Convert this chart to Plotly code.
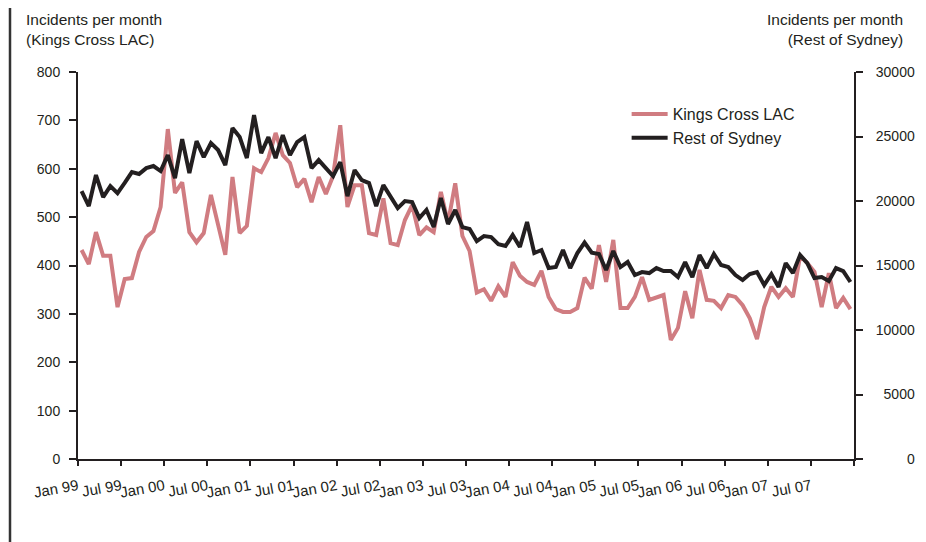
import plotly.graph_objects as go

# Monthly incidents, Jan 1999 - Dec 2007 (108 months)
kings_cross = [
    432, 403, 469, 420, 420, 314, 372, 374, 428, 459, 471, 521,
    682, 550, 572, 469, 448, 467, 546, 485, 422, 583, 467, 482,
    601, 593, 622, 674, 628, 612, 562, 579, 531, 583, 548, 585,
    690, 521, 566, 566, 467, 463, 539, 446, 442, 494, 525, 463,
    479, 469, 552, 488, 570, 461, 430, 344, 351, 327, 357, 335,
    407, 379, 366, 360, 389, 335, 310, 304, 304, 312, 375, 352,
    442, 366, 453, 312, 312, 335, 376, 329, 333, 339, 246, 271,
    347, 291, 391, 329, 327, 312, 339, 335, 318, 291, 248, 314,
    356, 335, 353, 335, 420, 405, 387, 314, 384, 312, 333, 310,
]
rest_of_sydney = [
    20770, 19610, 22010, 20305, 21160, 20615, 21400, 22240, 22090, 22550, 22710, 22320,
    23560, 21780, 24800, 22165, 24645, 23400, 24490, 23950, 22785, 25650, 24955, 23330,
    26660, 23715, 24955, 23330, 25110, 23560, 24570, 24955, 22550, 23170, 22550, 21930,
    23020, 20380, 22400, 21620, 21390, 19610, 21235, 20305, 19450, 20000, 19920, 18680,
    19300, 17980, 20230, 18210, 19300, 17980, 17825, 16895, 17280, 17205, 16660, 16510,
    17360, 16430, 18370, 15965, 16200, 14800, 14880, 16200, 14800, 15965, 16780, 16000,
    15890, 14650, 16120, 14880, 15270, 14260, 14490, 14415, 14800, 14570, 14570, 14100,
    15270, 14100, 15810, 14800, 15890, 15035, 14880, 14260, 13870, 14340, 14490, 13485,
    14340, 13330, 15190, 14415, 15810, 15190, 14030, 14100, 13795, 14800, 14570, 13720,
]
month_index = list(range(len(kings_cross)))

x_tick_labels = ["Jan 99", "Jul 99", "Jan 00", "Jul 00", "Jan 01", "Jul 01",
                 "Jan 02", "Jul 02", "Jan 03", "Jul 03", "Jan 04", "Jul 04",
                 "Jan 05", "Jul 05", "Jan 06", "Jul 06", "Jan 07", "Jul 07", ""]
left_ticks = [0, 100, 200, 300, 400, 500, 600, 700, 800]
right_ticks = [0, 5000, 10000, 15000, 20000, 25000, 30000]

PINK = "#D07C81"
DARK = "#231F20"
FONT = "Liberation Sans, Arial, sans-serif"

x_tickvals = [-0.5 + 6 * k for k in range(len(x_tick_labels))]
right_text = ["\u2007" * (5 - len(str(v))) + str(v) for v in right_ticks]

fig = go.Figure()
fig.add_trace(go.Scatter(x=month_index, y=kings_cross, mode="lines",
                         name="Kings Cross LAC",
                         line=dict(color=PINK, width=4)))
fig.add_trace(go.Scatter(x=month_index, y=rest_of_sydney, mode="lines",
                         name="Rest of Sydney", yaxis="y2",
                         line=dict(color=DARK, width=4)))

# page body has an 8px offset, so margins are shifted by 8px
fig.update_layout(
    width=926, height=542,
    margin=dict(l=70, r=80, t=64, b=91),
    paper_bgcolor="white", plot_bgcolor="white",
    font=dict(family=FONT, color=DARK, size=14),
    showlegend=True,
    legend=dict(x=0.707, y=0.935, xanchor="left", yanchor="top",
                bgcolor="rgba(0,0,0,0)", font=dict(size=16, color=DARK),
                tracegroupgap=0, itemwidth=36),
    xaxis=dict(range=[-0.5, 107.5], tickvals=x_tickvals, ticktext=x_tick_labels,
               tickangle=-10, showline=True, linecolor=DARK, linewidth=2,
               ticks="outside", ticklen=5, tickwidth=1.5, tickcolor=DARK,
               showgrid=False, zeroline=False, tickfont=dict(size=15),
               ticklabelstandoff=6),
    yaxis=dict(range=[0, 800], tickvals=left_ticks, showline=True,
               linecolor=DARK, linewidth=2, ticks="outside", ticklen=7,
               tickwidth=1.5, tickcolor=DARK, showgrid=False, zeroline=False,
               ticklabelstandoff=6, tickfont=dict(size=14)),
    yaxis2=dict(range=[0, 30000], tickvals=right_ticks, ticktext=right_text,
                overlaying="y", side="right", anchor="x", showline=True,
                linecolor=DARK, linewidth=2, ticks="outside", ticklen=7,
                tickwidth=1.5, tickcolor=DARK, showgrid=False, zeroline=False,
                ticklabelstandoff=10, tickfont=dict(size=14)),
)

fig.add_annotation(text="Incidents per month<br>(Kings Cross LAC)",
                   xref="paper", yref="paper", x=(24 - 78) / 776, y=(459 - 9) / 387,
                   xanchor="left", yanchor="top", align="left", showarrow=False,
                   font=dict(size=15.5, color=DARK))
fig.add_annotation(text="Incidents per month<br>(Rest of Sydney)",
                   xref="paper", yref="paper", x=(905 - 78) / 776, y=(459 - 9) / 387,
                   xanchor="right", yanchor="top", align="right", showarrow=False,
                   font=dict(size=15.5, color=DARK))

# page frame edge on the left
fig.add_shape(type="line", xref="paper", yref="paper",
              x0=(10 - 78) / 776, x1=(10 - 78) / 776,
              y0=(459 - 545) / 387, y1=(459 + 20) / 387,
              line=dict(color="#333333", width=2.5))

fig.write_html("out.html")
